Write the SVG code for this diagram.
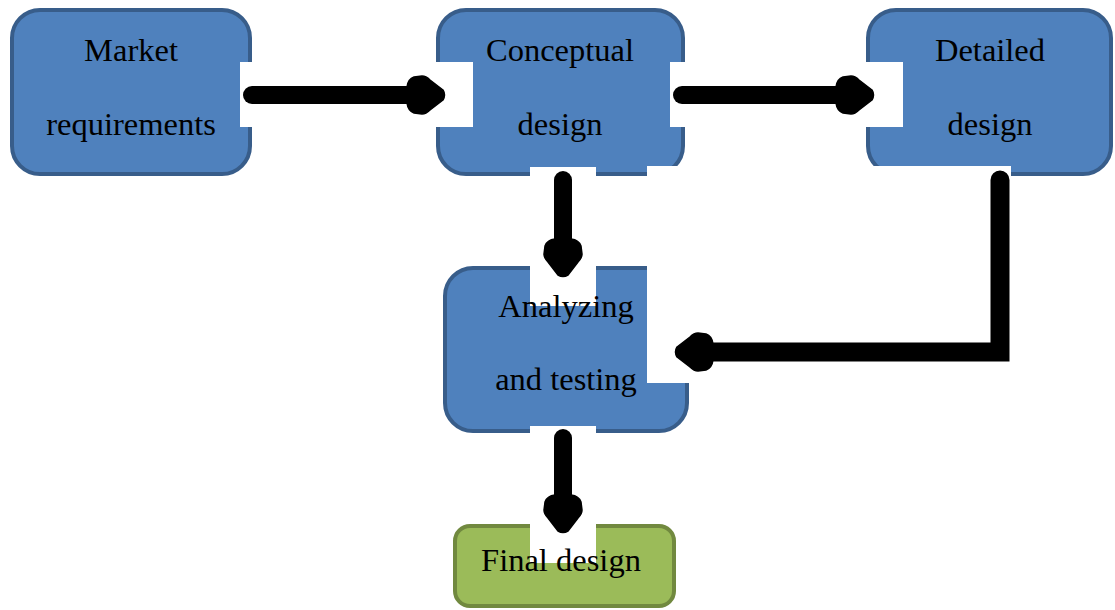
<svg xmlns="http://www.w3.org/2000/svg" width="1115" height="610" viewBox="0 0 1115 610">
<style>
.blue{fill:#4F81BD;stroke:#385D8A;stroke-width:4}
.green{fill:#9BBB59;stroke:#71893F;stroke-width:4}
.bg{fill:#FFFFFF}
.ln{fill:none;stroke:#000;stroke-width:18;stroke-linecap:round;stroke-linejoin:round}
.ln2{fill:none;stroke:#000;stroke-width:19;stroke-linecap:round;stroke-linejoin:miter}
.hd{fill:#000;stroke:#000;stroke-width:1.5;stroke-linejoin:round}
text{font-family:"Liberation Serif","Times New Roman",serif;font-size:32.5px;fill:#000;text-anchor:middle}
</style>
<defs>
<path id="head" d="M-38,-8 Q-37,-16 -31,-18 L-23,-19 Q-19,-19 -15,-15 L-2,-5 Q1,0 -2,5 L-15,15 Q-19,19 -23,19 L-31,18 Q-37,16 -38,8 Z"/>
</defs>
<rect width="1115" height="610" fill="#FFFFFF"/>
<g id="node-market"><rect class="blue" x="12" y="10" width="238" height="164" rx="28"/></g>
<g id="node-conceptual"><rect class="blue" x="438" y="10" width="245" height="164" rx="28"/></g>
<g id="node-detailed"><rect class="blue" x="868" y="10" width="243" height="164" rx="28"/></g>
<g id="node-analyzing"><rect class="blue" x="445" y="268" width="242" height="163" rx="28"/></g>
<g id="node-final"><rect class="green" x="455" y="526" width="219" height="80" rx="15"/></g>
<g id="connectors">
<rect class="bg" x="240" y="62" width="233" height="65"/>
<rect class="bg" x="670" y="62" width="233" height="65"/>
<rect class="bg" x="530" y="167" width="66" height="139"/>
<rect class="bg" x="647" y="166" width="364" height="217"/>
<rect class="bg" x="530" y="426" width="66" height="137"/>
<line class="ln" x1="252" y1="95" x2="412" y2="95"/>
<use href="#head" class="hd" transform="translate(445,95)"/>
<line class="ln" x1="682" y1="95" x2="840" y2="95"/>
<use href="#head" class="hd" transform="translate(874,95)"/>
<line class="ln" x1="563" y1="180" x2="563" y2="245"/>
<use href="#head" class="hd" transform="translate(563,277) rotate(90)"/>
<path class="ln2" d="M1000,180 L1000,352 L708,352"/>
<use href="#head" class="hd" transform="translate(675,352) rotate(180)"/>
<line class="ln" x1="563" y1="438" x2="563" y2="500"/>
<use href="#head" class="hd" transform="translate(563,533) rotate(90)"/>
</g>
<g id="labels">
<text id="label-market"><tspan x="131" y="61">Market</tspan><tspan x="131" y="135">requirements</tspan></text>
<text id="label-conceptual"><tspan x="560" y="61">Conceptual</tspan><tspan x="560" y="135">design</tspan></text>
<text id="label-detailed"><tspan x="990" y="61">Detailed</tspan><tspan x="990" y="135">design</tspan></text>
<text id="label-analyzing"><tspan x="566" y="317">Analyzing</tspan><tspan x="566" y="390">and testing</tspan></text>
<text id="label-final" x="561" y="571">Final design</text>
</g>
</svg>
